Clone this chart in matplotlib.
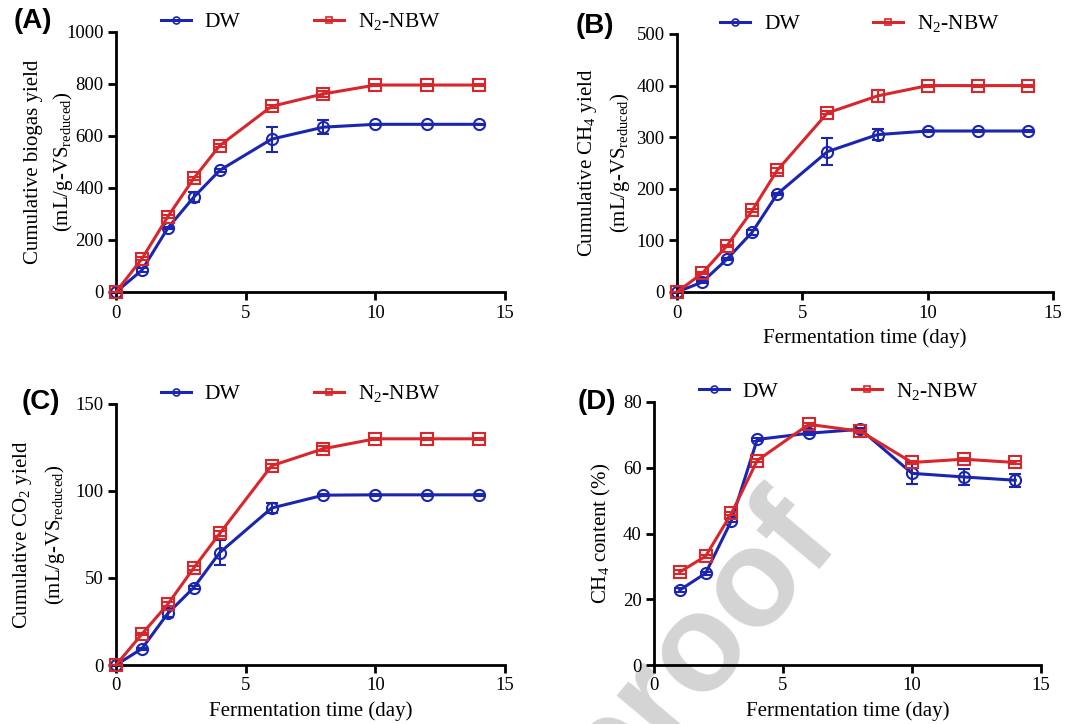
import matplotlib
matplotlib.use("Agg")
import matplotlib.pyplot as plt
from matplotlib.lines import Line2D

plt.rcParams['font.family'] = ['Liberation Serif', 'DejaVu Serif']
plt.rcParams['mathtext.fontset'] = 'custom'
plt.rcParams['mathtext.rm'] = 'Liberation Serif'
plt.rcParams['mathtext.it'] = 'Liberation Serif:italic'

# ---- data ----
days = [0, 1, 2, 3, 4, 6, 8, 10, 12, 14]
days_d = [1, 2, 3, 4, 6, 8, 10, 12, 14]

biogas_dw = [0, 84, 246, 365, 468, 588, 634, 645, 645, 645]
biogas_dw_err = [0, 8, 5, 20, 5, 48, 28, 3, 3, 3]
biogas_nbw = [0, 128, 290, 437, 563, 714, 762, 796, 796, 796]
biogas_nbw_err = [0, 5, 5, 5, 5, 5, 12, 3, 3, 3]

ch4_dw = [0, 19, 64, 116, 190, 272, 305, 312, 312, 312]
ch4_dw_err = [0, 2, 2, 5, 2, 26, 10, 2, 2, 2]
ch4_nbw = [0, 36, 90, 158, 236, 347, 380, 400, 400, 400]
ch4_nbw_err = [0, 2, 2, 2, 5, 3, 12, 2, 2, 2]

co2_dw = [0, 9.4, 29.7, 44.5, 64.6, 90.2, 97.6, 97.8, 97.8, 97.8]
co2_dw_err = [0, 0.5, 2, 1, 7.1, 3, 0.5, 0.5, 0.5, 0.5]
co2_nbw = [0, 17.8, 35.0, 55.8, 75.6, 114.5, 124.3, 130.0, 130.0, 130.0]
co2_nbw_err = [0, 0.5, 1, 1, 1.5, 1, 1.5, 0.5, 0.5, 0.5]

cont_dw = [22.8, 27.9, 43.9, 68.6, 70.5, 71.7, 58.3, 57.2, 56.2]
cont_dw_err = [0.5, 0.5, 0.5, 0.5, 0.5, 0.5, 3.1, 2.4, 2.0]
cont_nbw = [28.3, 33.1, 46.1, 62.2, 73.2, 71.1, 61.6, 62.6, 61.6]
cont_nbw_err = [0.5, 0.5, 0.5, 0.5, 0.5, 0.5, 0.5, 0.5, 0.5]

labels = ['DW', r'N$_2$-NBW']
BLUE = '#1a25b0'
RED = '#d8262b'

W, H = 1074, 724
fig = plt.figure(figsize=(W / 100, H / 100), dpi=100)

# watermark (behind everything)
fig.text(697 / W, 1 - 648 / H, 'proof', fontsize=100, color='#d4d4d4', rotation=50,
         family='Liberation Sans', fontweight='bold', ha='center', va='center', zorder=-10)

def rect(l, r, t, b):
    return [l / W, 1 - b / H, (r - l) / W, (b - t) / H]

panels = [
    dict(pos=rect(116, 505, 32, 292), x=days, dw=biogas_dw, dwe=biogas_dw_err,
         nb=biogas_nbw, nbe=biogas_nbw_err, ymax=1000, yt=[0, 200, 400, 600, 800, 1000],
         yl='Cumulative biogas yield\n' + r'(mL/g-VS$_{\mathrm{reduced}}$)', ylx=-0.105,
         xl=None, tag='(A)', tagxy=(14, 21)),
    dict(pos=rect(677, 1053, 34, 292), x=days, dw=ch4_dw, dwe=ch4_dw_err,
         nb=ch4_nbw, nbe=ch4_nbw_err, ymax=500, yt=[0, 100, 200, 300, 400, 500],
         yl=r'Cumulative CH$_4$ yield' + '\n' + r'(mL/g-VS$_{\mathrm{reduced}}$)', ylx=-0.12,
         xl='Fermentation time (day)', tag='(B)', tagxy=(576, 26)),
    dict(pos=rect(116, 505, 404, 665), x=days, dw=co2_dw, dwe=co2_dw_err,
         nb=co2_nbw, nbe=co2_nbw_err, ymax=150, yt=[0, 50, 100, 150],
         yl=r'Cumulative CO$_2$ yield' + '\n' + r'(mL/g-VS$_{\mathrm{reduced}}$)', ylx=-0.126,
         xl='Fermentation time (day)', tag='(C)', tagxy=(22, 402)),
    dict(pos=rect(654, 1041, 402, 665), x=days_d, dw=cont_dw, dwe=cont_dw_err,
         nb=cont_nbw, nbe=cont_nbw_err, ymax=80, yt=[0, 20, 40, 60, 80],
         yl=r'CH$_4$ content (%)', ylx=-0.107, xl='Fermentation time (day)',
         tag='(D)', tagxy=(578, 402)),
]

for p in panels:
    ax = fig.add_axes(p['pos'])
    ax.patch.set_alpha(0)
    ax.errorbar(p['x'], p['dw'], yerr=p['dwe'], color=BLUE, lw=2.2, marker='o', ms=8,
                mfc='none', mew=1.5, capsize=4, elinewidth=1.5, capthick=1.5, clip_on=False, zorder=3)
    ax.errorbar(p['x'], p['nb'], yerr=p['nbe'], color=RED, lw=2.2, marker='s', ms=8,
                mfc='none', mew=1.5, capsize=4, elinewidth=1.5, capthick=1.5, clip_on=False, zorder=4)
    ax.set_xlim(0, 15)
    ax.set_ylim(0, p['ymax'])
    ax.set_xticks([0, 5, 10, 15])
    ax.set_yticks(p['yt'])
    for s in ['top', 'right']:
        ax.spines[s].set_visible(False)
    for s in ['left', 'bottom']:
        ax.spines[s].set_linewidth(2)
    ax.tick_params(width=2, length=6, labelsize=13.5, direction='out', colors='black', pad=3)
    ax.set_ylabel(p['yl'], fontsize=15, linespacing=1.5)
    ax.yaxis.set_label_coords(p['ylx'], 0.5)
    if p['xl']:
        ax.set_xlabel(p['xl'], fontsize=15, labelpad=5)
    handles = [Line2D([], [], color=BLUE, lw=2.2, marker='o', ms=5, mfc='none', mew=1.2),
               Line2D([], [], color=RED, lw=2.2, marker='s', ms=5, mfc='none', mew=1.2)]
    ax.legend(handles, labels, loc='center left', bbox_to_anchor=(0.115, 1.04), ncol=2,
              frameon=False, fontsize=15.5, handlelength=1.4, columnspacing=3.4,
              handletextpad=0.65, borderaxespad=0, borderpad=0)
    fig.text(p['tagxy'][0] / W, 1 - p['tagxy'][1] / H, p['tag'],
             fontsize=20, fontweight='bold', family='Liberation Sans', ha='left', va='center')

fig.savefig('out.png', dpi=100)
